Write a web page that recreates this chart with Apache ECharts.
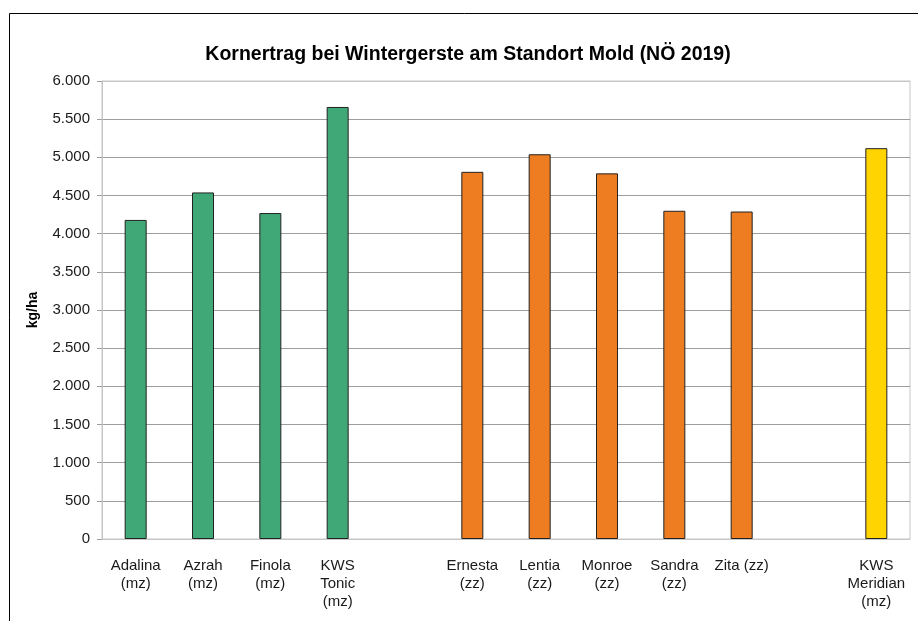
<!DOCTYPE html>
<html>
<head>
<meta charset="utf-8">
<script src="https://cdn.jsdelivr.net/npm/echarts@6/dist/echarts.min.js"></script>
<style>
	html, body { margin: 0; padding: 0; background: #fff; }
	#chart { width: 918px; height: 621px; }
</style>
</head>
<body>
<div id="chart"></div>
<script>
// data ('' = empty slot between the groups)
const CATEGORIES = ['Adalina\n(mz)', 'Azrah\n(mz)', 'Finola\n(mz)', 'KWS\nTonic\n(mz)', '',
	'Ernesta\n(zz)', 'Lentia\n(zz)', 'Monroe\n(zz)', 'Sandra\n(zz)', 'Zita (zz)', '',
	'KWS\nMeridian\n(mz)'];
const YIELD = [4180, 4540, 4270, 5660, null, 4810, 5040, 4790, 4300, 4290, null, 5120];
const GROUP = ['mz', 'mz', 'mz', 'mz', null, 'zz', 'zz', 'zz', 'zz', 'zz', null, 'ref'];
const Y_TICKS = [0, 500, 1000, 1500, 2000, 2500, 3000, 3500, 4000, 4500, 5000, 5500, 6000];

//configurations
const
	FONT = '"Liberation Sans", Arial, sans-serif',
	GROUP_COLOR = { mz: '#40a877', zz: '#ee7c20', ref: '#ffd400' },
	BORDER_LIGHT = '#c6c6c6',
	GRID_LINE = '#9e9e9e';

var chart = echarts.init(document.getElementById('chart'));

var splitColors = Y_TICKS.map((v, i) => (i === 0 || i === Y_TICKS.length - 1) ? BORDER_LIGHT : GRID_LINE);

chart.setOption({
	animation: false,
	backgroundColor: '#fff',
	title: {
		text: 'Kornertrag bei Wintergerste am Standort Mold (NÖ 2019)',
		left: 463, top: 40, textAlign: 'center',
		textStyle: { fontFamily: FONT, fontSize: 19.5, fontWeight: 'bold', color: '#000' }
	},
	graphic: [{
		type: 'rect', silent: true,
		shape: { x: 9.5, y: 13.5, width: 1000, height: 1000 },
		style: { fill: 'none', stroke: '#000', lineWidth: 1 }
	}],
	grid: { left: 102, top: 81, right: 8, bottom: 82, show: true, borderColor: BORDER_LIGHT, borderWidth: 1 },
	xAxis: {
		type: 'category',
		data: CATEGORIES,
		axisLine: { lineStyle: { color: BORDER_LIGHT } },
		axisTick: { show: false },
		axisLabel: { interval: 0, margin: 18, lineHeight: 18, fontFamily: FONT, fontSize: 15, color: '#1a1a1a' }
	},
	yAxis: {
		type: 'value', min: 0, max: 6000, interval: 500,
		name: 'kg/ha', nameLocation: 'middle', nameGap: 62, nameRotate: 90,
		nameTextStyle: { fontFamily: FONT, fontSize: 14, fontWeight: 'bold', color: '#000' },
		axisLine: { show: true, lineStyle: { color: BORDER_LIGHT } },
		axisTick: { show: true, length: 5, lineStyle: { color: GRID_LINE } },
		axisLabel: {
			margin: 12, fontFamily: FONT, fontSize: 15, color: '#1a1a1a',
			formatter: v => String(v).replace(/\B(?=(\d{3})+(?!\d))/g, '.')
		},
		splitLine: { lineStyle: { color: splitColors, width: 1 } }
	},
	series: [{
		type: 'bar',
		barWidth: 22,
		data: YIELD.map((v, i) => v === null ? null : {
			value: v,
			itemStyle: { color: GROUP_COLOR[GROUP[i]], borderColor: '#222', borderWidth: 1 }
		})
	}]
});
</script>
</body>
</html>
